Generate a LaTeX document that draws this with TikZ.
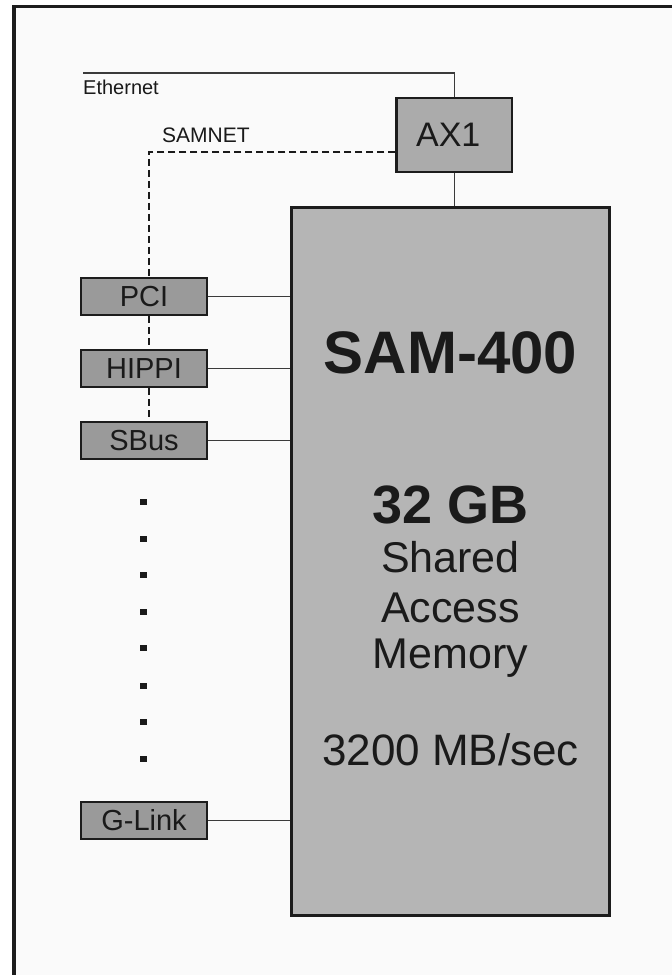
\documentclass[tikz,border=0pt]{standalone}
\usepackage{fontspec}
\setmainfont{Liberation Sans}
\definecolor{bgg}{HTML}{FAFAFA}
\definecolor{samg}{HTML}{B5B5B5}
\definecolor{axg}{HTML}{ABABAB}
\definecolor{cardg}{HTML}{9A9A9A}
\definecolor{edge}{HTML}{1C1C1C}
\definecolor{lineg}{HTML}{3A3A3A}
\definecolor{txt}{HTML}{1A1A1A}
\begin{document}
\begin{tikzpicture}[x=1pt,y=-1pt,
  conn/.style={draw=lineg, line width=1.2pt},
  samnet/.style={draw=txt, line width=1.6pt, dash pattern=on 7pt off 4pt},
  card/.style={draw=edge, line width=2pt, fill=cardg, minimum width=126pt,
    minimum height=37pt, inner sep=0pt, text=txt, font=\fontsize{29}{34}\selectfont},
  axbox/.style={draw=edge, line width=2.5pt, fill=axg, minimum width=115.5pt,
    minimum height=74pt, inner sep=0pt, text=txt, font=\fontsize{34}{40}\selectfont},
  sambox/.style={draw=edge, line width=3pt, fill=samg, minimum width=318.5pt,
    minimum height=707.5pt, inner sep=0pt},
  samtext/.style={anchor=base, inner sep=0pt, text=txt},
  lbl/.style={anchor=base west, inner sep=0pt, text=txt}
]
\useasboundingbox (0,0) rectangle (672,975);
\fill[white] (0,0) rectangle (672,975);
\fill[bgg] (14,6.5) rectangle (672,975);
\draw[edge, line width=3.5pt] (14,975) -- (14,6.5) -- (672,6.5);

% main boxes
\node[sambox] (sam) at (450.25,561.25) {};
\node[axbox] (ax1) at (454.25,135) {AX1\hspace*{12pt}};

% interface cards
\node[card] (pci) at (144,296.5) {PCI};
\node[card] (hippi) at (144,368.5) {HIPPI};
\node[card] (sbus) at (144,440.5) {SBus};
\node[card] (glink) at (144,820.5) {G-Link};

% SAM texts
\node[samtext, font=\bfseries\fontsize{60}{72}\selectfont] (tsam) at (450.5,373) {SAM-400};
\node[samtext, font=\bfseries\fontsize{54}{64}\selectfont] (tgb) at (450.5,523) {32 GB};
\node[samtext, font=\fontsize{43}{50}\selectfont] (tsh) at (450.5,572.5) {Shared};
\node[samtext, font=\fontsize{43}{50}\selectfont] (tac) at (450.5,622) {Access};
\node[samtext, font=\fontsize{43}{50}\selectfont] (tme) at (450.5,668) {Memory};
\node[samtext, font=\fontsize{44}{52}\selectfont] (tmb) at (450.5,765) {3200 MB/sec};

% labels
\node[lbl, font=\fontsize{20}{24}\selectfont] (ethl) at (83,94.3) {Ethernet};
\node[lbl, font=\fontsize{21}{25}\selectfont] (snl) at (162,142) {SAMNET};

% Ethernet
\coordinate (eth) at (83,73);
\draw[conn] (eth) -| (ax1.north);
% AX1 to SAM
\draw[conn] (ax1.south) -- (ax1.south |- sam.north);

% card connectors
\draw[conn] (pci.east) -- (pci.east -| sam.west);
\draw[conn] (hippi.east) -- (hippi.east -| sam.west);
\draw[conn] (sbus.east) -- (sbus.east -| sam.west);
\draw[conn] (glink.east) -- (glink.east -| sam.west);

% SAMNET dashed
\coordinate (sn) at (149,152);
\draw[samnet] (ax1.west |- sn) -- (sn) -- (sn |- pci.north);
\draw[samnet] (sn |- pci.south) -- (sn |- hippi.north);
\draw[samnet] (sn |- hippi.south) -- (sn |- sbus.north);

% continuation dots
\foreach \yy in {502,539,575,612,648,686,722,759}
  \fill[txt] (140,\yy-3) rectangle (147,\yy+3);
\end{tikzpicture}
\end{document}
